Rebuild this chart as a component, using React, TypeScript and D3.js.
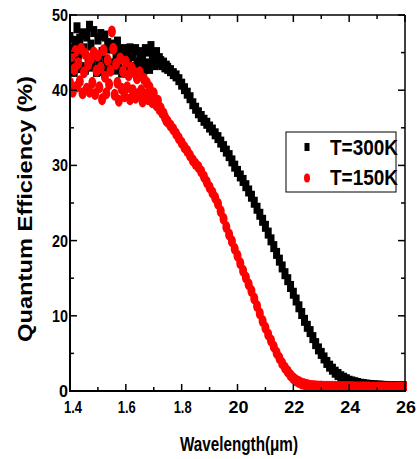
import React from "react";
import * as d3 from "d3";

const W = 417;
const H = 459;

// sample grid: 1.400..1.745 µm every 0.005 (noisy part), then 1.75..2.60 every 0.01
const wavelengths: number[] = [
  ...d3.range(70).map((i) => +(1.4 + i * 0.005).toFixed(3)),
  ...d3.range(86).map((i) => +(1.75 + i * 0.01).toFixed(3)),
];

const qe300K: number[] = [
  // 1.400 - 1.745 (step 0.005)
  47.0, 43.5, 45.5, 42.5, 46.5,
  48.3, 44.8, 46.8, 43.0, 47.5,
  45.5, 42.8, 47.2, 44.2, 48.5,
  46.0, 43.2, 47.8, 44.6, 42.5,
  46.8, 43.8, 47.4, 45.0, 42.6,
  47.2, 44.0, 46.2, 42.8, 45.6,
  43.5, 46.0, 42.8, 44.8, 46.4,
  43.0, 45.2, 42.4, 44.6, 45.4,
  42.6, 44.8, 43.4, 45.5, 42.8,
  44.6, 43.0, 45.4, 43.6, 42.5,
  45.0, 43.2, 44.6, 42.8, 45.4,
  43.5, 45.2, 42.9, 45.8, 43.8,
  44.6, 43.4, 45.0, 43.6, 44.2,
  43.8, 43.4, 43.6, 43.1, 43.2,
  // 1.75 - 2.60 (step 0.01)
  42.9, 42.6, 42.2, 41.9, 41.4,
  40.8, 40.2, 39.6, 39.0, 38.2, 37.6, 37.0, 36.5, 36.0, 35.6,
  35.1, 34.7, 34.2, 33.7, 33.1, 32.5, 31.9, 31.3, 30.6, 29.9,
  29.2, 28.6, 28.0, 27.3, 26.6, 25.9, 25.1, 24.3, 23.5, 22.7,
  21.9, 21.0, 20.1, 19.2, 18.3, 17.4, 16.5, 15.6, 14.8, 13.9,
  13.0, 12.1, 11.2, 10.3, 9.4, 8.6, 7.9, 7.1, 6.3, 5.6,
  5.0, 4.4, 3.8, 3.3, 2.9, 2.5, 2.2, 1.9, 1.7, 1.5,
  1.3, 1.2, 1.1, 1.0, 0.9, 0.85, 0.8, 0.75, 0.7, 0.7,
  0.65, 0.65, 0.62, 0.6, 0.6, 0.58, 0.57, 0.56, 0.55, 0.55,
  0.55,
];

const qe150K: number[] = [
  // 1.400 - 1.745 (step 0.005)
  41.0, 44.5, 39.8, 42.8, 45.2,
  40.5, 43.6, 41.2, 45.5, 39.6,
  42.4, 44.8, 40.2, 43.4, 39.8,
  44.2, 41.0, 45.0, 39.5, 42.6,
  44.6, 40.4, 43.0, 38.8, 45.3,
  41.8, 39.6, 44.0, 40.8, 42.6,
  47.8, 45.5, 39.4, 43.5, 41.0,
  38.6, 44.2, 40.2, 42.5, 39.2,
  43.8, 40.4, 42.0, 38.8, 43.0,
  40.0, 42.4, 39.0, 41.6, 39.5,
  42.4, 40.0, 38.5, 41.5, 39.4,
  41.0, 38.8, 40.4, 39.2, 38.4,
  39.6, 38.6, 38.0, 38.6, 37.5,
  37.6, 37.0, 36.9, 36.4, 36.0,
  // 1.75 - 2.60 (step 0.01)
  35.8, 35.3, 34.8, 34.2, 33.6,
  33.0, 32.4, 31.9, 31.3, 30.7, 30.2, 29.8, 29.2, 28.5, 27.8,
  27.1, 26.4, 25.7, 24.9, 23.9, 22.9, 21.8, 20.8, 19.9, 18.9,
  18.0, 17.0, 16.0, 15.1, 14.2, 13.3, 12.3, 11.3, 10.3, 9.3,
  8.4, 7.5, 6.7, 5.9, 5.1, 4.4, 3.7, 3.1, 2.6, 2.1,
  1.7, 1.4, 1.2, 1.0, 0.9, 0.8, 0.7, 0.65, 0.62, 0.6,
  0.6, 0.58, 0.58, 0.57, 0.56, 0.55, 0.55, 0.54, 0.53, 0.53,
  0.52, 0.52, 0.51, 0.5, 0.5, 0.5, 0.49, 0.49, 0.48, 0.48,
  0.48, 0.47, 0.47, 0.47, 0.46, 0.46, 0.46, 0.45, 0.45, 0.45,
  0.45,
];

const xTickValues: number[] = [1.4, 1.6, 1.8, 2.0, 2.2, 2.4, 2.6];
const xTickLabels: string[] = ["1.4", "1.6", "1.8", "20", "22", "24", "26"];
const yTickValues: number[] = [0, 10, 20, 30, 40, 50];
const yTickLabels: string[] = ["0", "10", "20", "30", "40", "50"];
const legendLabels: string[] = ["T=300K", "T=150K"];

const left = 70, right = 405, top = 15, bottom = 391;

export default function App() {
  const x = d3.scaleLinear().domain([1.4, 2.6]).range([left, right]);
  const y = d3.scaleLinear().domain([0, 50]).range([bottom, top]);
  const font = "Arial, 'Liberation Sans', Helvetica, sans-serif";

  const xMinor = d3.range(13).map((i) => 1.4 + i * 0.1);
  const yMinor = d3.range(11).map((i) => i * 5);

  return (
    <svg width={W} height={H} style={{ position: "absolute", left: 0, top: 0, background: "#fff" }}>
      <rect x={0} y={0} width={W} height={H} fill="#fff" />
      <defs>
        <clipPath id="clip">
          <rect x={left} y={top - 2} width={right - left + 2} height={bottom - top + 2} />
        </clipPath>
      </defs>
      <g clipPath="url(#clip)">
        {qe300K.map((v, i) => (
          <rect key={"b" + i} x={x(wavelengths[i]) - 3.5} y={y(v) - 5.5} width={7} height={11} fill="#000" />
        ))}
        {qe150K.map((v, i) => (
          <ellipse key={"r" + i} cx={x(wavelengths[i])} cy={y(v)} rx={4} ry={6} fill="#ff0000" />
        ))}
      </g>
      {/* frame */}
      <line x1={left} x2={right} y1={top} y2={top} stroke="#000" strokeWidth={1.5} />
      <line x1={right} x2={right} y1={top} y2={bottom} stroke="#000" strokeWidth={1.5} />
      <line x1={left} x2={right + 1} y1={bottom} y2={bottom} stroke="#000" strokeWidth={2} />
      <line x1={left} x2={left} y1={top - 1} y2={bottom + 1} stroke="#000" strokeWidth={2} />
      {xMinor.map((t, i) => {
        const len = i % 2 === 0 ? 7 : 4;
        return (
          <g key={"xt" + i}>
            <line x1={x(t)} x2={x(t)} y1={bottom} y2={bottom - len} stroke="#000" strokeWidth={1.5} />
            <line x1={x(t)} x2={x(t)} y1={top} y2={top + len} stroke="#000" strokeWidth={1.5} />
          </g>
        );
      })}
      {yMinor.map((t, i) => {
        const len = i % 2 === 0 ? 7 : 4;
        return (
          <g key={"yt" + i}>
            <line x1={left} x2={left + len} y1={y(t)} y2={y(t)} stroke="#000" strokeWidth={1.5} />
            <line x1={right} x2={right - len} y1={y(t)} y2={y(t)} stroke="#000" strokeWidth={1.5} />
          </g>
        );
      })}
      {xTickValues.map((t, i) => (
        <text key={"xl" + i} x={x(t) + (i === 0 ? 3 : 1)} y={413} textAnchor="middle" fontFamily={font}
          fontWeight="bold" fontSize={17} textLength={xTickLabels[i].length === 3 ? 18 : 20}
          lengthAdjust="spacingAndGlyphs">{xTickLabels[i]}</text>
      ))}
      {yTickValues.map((t, i) => (
        <text key={"yl" + i} x={68} y={y(t) + 6} textAnchor="end" fontFamily={font}
          fontWeight="bold" fontSize={17} textLength={yTickLabels[i].length === 1 ? 9 : 16}
          lengthAdjust="spacingAndGlyphs">{yTickLabels[i]}</text>
      ))}
      <text x={239} y={451} textAnchor="middle" fontFamily={font} fontWeight="bold" fontSize={20}
        textLength={118} lengthAdjust="spacingAndGlyphs">Wavelength(μm)</text>
      <text transform="translate(32,209) rotate(-90)" textAnchor="middle" fontFamily={font}
        fontWeight="bold" fontSize={20} textLength={266} lengthAdjust="spacingAndGlyphs">Quantum Efficiency (%)</text>
      <rect x={286} y={132} width={110} height={60} fill="#fff" stroke="#000" strokeWidth={1} />
      <rect x={304.5} y={143} width={5} height={8} fill="#000" />
      <ellipse cx={307} cy={178} rx={3} ry={4.5} fill="#ff0000" />
      {legendLabels.map((l, i) => (
        <text key={"lg" + i} x={330} y={155 + i * 30} fontFamily={font} fontWeight="bold" fontSize={22}
          textLength={68} lengthAdjust="spacingAndGlyphs">{l}</text>
      ))}
    </svg>
  );
}
